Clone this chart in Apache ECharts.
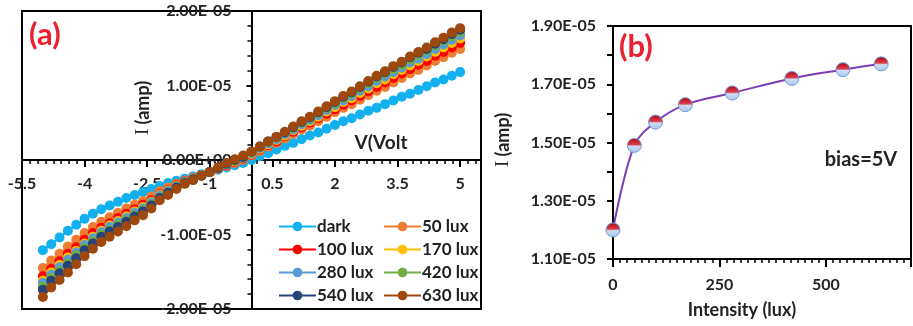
<!DOCTYPE html>
<html><head><meta charset="utf-8">
<script src="https://cdn.jsdelivr.net/npm/echarts@6/dist/echarts.min.js"></script>
<style>html,body{margin:0;padding:0;background:#fff}#c{width:913px;height:326px}</style>
</head><body><div id="c"></div>
<script>
// ---- Data (currents in units of 1E-05 A) ----
const volts = [-5,-4.8,-4.6,-4.4,-4.2,-4,-3.8,-3.6,-3.4,-3.2,-3,-2.8,-2.6,-2.4,-2.2,-2,-1.8,-1.6,-1.4,-1.2,-1,-0.8,-0.6,-0.4,-0.2,0,0.2,0.4,0.6,0.8,1,1.2,1.4,1.6,1.8,2,2.2,2.4,2.6,2.8,3,3.2,3.4,3.6,3.8,4,4.2,4.4,4.6,4.8,5];
const dark = [-1.21,-1.13,-1.04,-0.95,-0.87,-0.79,-0.72,-0.66,-0.61,-0.56,-0.51,-0.47,-0.43,-0.39,-0.35,-0.31,-0.28,-0.25,-0.22,-0.19,-0.16,-0.13,-0.10,-0.07,-0.04,0.00,0.05,0.09,0.14,0.19,0.23,0.28,0.33,0.37,0.42,0.47,0.52,0.56,0.61,0.66,0.70,0.75,0.80,0.85,0.89,0.94,0.99,1.04,1.08,1.13,1.18];
const lux50 = [-1.45,-1.35,-1.26,-1.16,-1.07,-0.98,-0.90,-0.83,-0.77,-0.71,-0.65,-0.60,-0.55,-0.49,-0.42,-0.37,-0.32,-0.28,-0.24,-0.20,-0.16,-0.12,-0.08,-0.04,0.00,0.06,0.12,0.18,0.23,0.29,0.35,0.41,0.46,0.52,0.58,0.64,0.70,0.75,0.81,0.87,0.93,0.98,1.04,1.10,1.16,1.21,1.27,1.33,1.38,1.44,1.49];
const lux100 = [-1.56,-1.46,-1.36,-1.26,-1.17,-1.07,-0.98,-0.91,-0.85,-0.78,-0.72,-0.66,-0.60,-0.54,-0.46,-0.40,-0.34,-0.29,-0.25,-0.20,-0.16,-0.11,-0.07,-0.03,0.02,0.07,0.14,0.20,0.25,0.32,0.38,0.44,0.50,0.56,0.62,0.68,0.74,0.80,0.86,0.92,0.98,1.04,1.10,1.16,1.22,1.28,1.33,1.40,1.45,1.51,1.57];
const lux170 = [-1.62,-1.51,-1.41,-1.31,-1.22,-1.12,-1.03,-0.95,-0.88,-0.82,-0.76,-0.69,-0.63,-0.56,-0.47,-0.41,-0.35,-0.30,-0.25,-0.20,-0.16,-0.11,-0.06,-0.02,0.03,0.08,0.15,0.21,0.27,0.33,0.40,0.46,0.52,0.58,0.65,0.71,0.78,0.83,0.90,0.96,1.03,1.08,1.15,1.21,1.27,1.33,1.39,1.45,1.51,1.57,1.63];
const lux280 = [-1.65,-1.54,-1.44,-1.34,-1.24,-1.14,-1.05,-0.97,-0.90,-0.84,-0.78,-0.71,-0.65,-0.57,-0.48,-0.42,-0.36,-0.30,-0.26,-0.20,-0.16,-0.11,-0.06,-0.01,0.03,0.09,0.16,0.22,0.28,0.35,0.41,0.48,0.54,0.60,0.67,0.74,0.80,0.86,0.93,0.99,1.06,1.12,1.18,1.24,1.31,1.36,1.42,1.49,1.55,1.61,1.67];
const lux420 = [-1.70,-1.58,-1.49,-1.39,-1.28,-1.18,-1.09,-1.00,-0.94,-0.87,-0.81,-0.74,-0.67,-0.59,-0.50,-0.44,-0.37,-0.31,-0.26,-0.21,-0.16,-0.11,-0.05,-0.01,0.04,0.10,0.17,0.24,0.30,0.37,0.43,0.50,0.56,0.63,0.70,0.76,0.83,0.89,0.96,1.03,1.10,1.16,1.22,1.28,1.35,1.41,1.47,1.54,1.60,1.66,1.72];
const lux540 = [-1.74,-1.62,-1.52,-1.42,-1.32,-1.21,-1.12,-1.03,-0.96,-0.90,-0.83,-0.76,-0.69,-0.61,-0.51,-0.44,-0.37,-0.31,-0.26,-0.21,-0.16,-0.11,-0.05,0.00,0.04,0.11,0.18,0.25,0.31,0.37,0.44,0.51,0.57,0.64,0.71,0.78,0.85,0.91,0.98,1.05,1.12,1.18,1.25,1.31,1.38,1.44,1.49,1.56,1.62,1.69,1.75];
const lux630 = [-1.84,-1.71,-1.61,-1.51,-1.40,-1.29,-1.19,-1.10,-1.03,-0.96,-0.89,-0.81,-0.74,-0.65,-0.54,-0.47,-0.39,-0.32,-0.27,-0.21,-0.16,-0.10,-0.04,0.01,0.06,0.11,0.18,0.25,0.31,0.38,0.45,0.52,0.58,0.65,0.72,0.79,0.86,0.92,0.99,1.06,1.13,1.19,1.26,1.32,1.39,1.45,1.51,1.58,1.64,1.71,1.77];
const seriesNames = ['dark','50 lux','100 lux','170 lux','280 lux','420 lux','540 lux','630 lux'];
const intensity = [0,50,100,170,280,420,540,630];
const currentAt5V = [1.20,1.49,1.57,1.63,1.67,1.72,1.75,1.77];

// ---- Styles ----
const colors = ['#12b0ee','#ed7d31','#ff0000','#ffc000','#5b9bd5','#70ad47','#264478','#9e480e'];
const curves = [dark,lux50,lux100,lux170,lux280,lux420,lux540,lux630];
const FONT = 'Lato';
const TXT = '#222';
const fmtA = v => v === 0 ? '0.00E+00' : v.toFixed(2) + 'E-05';
const fmtB = v => v.toFixed(2) + 'E-05';

const chart = echarts.init(document.getElementById('c'), null, {renderer:'canvas'});

const ivSeries = curves.map((arr, i) => ({
  name: seriesNames[i], type: 'line', xAxisIndex: 0, yAxisIndex: 0,
  data: volts.map((v, k) => [v, arr[k]]),
  symbol: 'circle', symbolSize: 10, showSymbol: true,
  lineStyle: {width: 2, color: colors[i]},
  itemStyle: {color: colors[i]},
  animation: false, z: 3
}));

const labelStyle = {fontFamily: FONT, fontWeight: 'bold', fontSize: 16, color: TXT};
// grid (a): left 22, top 11, 459 x 298 -> zero of x at 251.5, zero of y at 160
const GA = {left: 22, top: 11, width: 459, height: 298};

const option = {
  animation: false,
  textStyle: {fontFamily: FONT},
  grid: [
    Object.assign({show: true, borderColor: '#000', borderWidth: 2, containLabel: false, outerBoundsMode: 'none'}, GA),
    {left: 613, top: 26, width: 298, height: 233, show: true, borderColor: '#000', borderWidth: 2, containLabel: false, outerBoundsMode: 'none'}
  ],
  xAxis: [
    {type: 'value', gridIndex: 0, min: -5.5, max: 5.5, interval: 1.5, position: 'bottom', offset: -149,
     axisLine: {onZero: false, lineStyle: {color: '#000', width: 2}},
     axisTick: {show: true, inside: false, length: 7, lineStyle: {color: '#000', width: 2}},
     minorTick: {show: true, splitNumber: 8, length: 4, lineStyle: {color: '#000', width: 1.5}},
     axisLabel: Object.assign({margin: 16, showMaxLabel: false, formatter: v => String(v)}, labelStyle),
     splitLine: {show: false}},
    {type: 'value', gridIndex: 1, min: 0, max: 700, interval: 250,
     axisLine: {onZero: false, lineStyle: {color: '#000', width: 2}},
     axisTick: {show: true, inside: false, length: 8, lineStyle: {color: '#000', width: 2}},
     minorTick: {show: true, splitNumber: 15, length: 4, lineStyle: {color: '#000', width: 1.5}},
     axisLabel: Object.assign({margin: 18, showMaxLabel: false}, labelStyle),
     splitLine: {show: false}}
  ],
  yAxis: [
    {type: 'value', gridIndex: 0, min: -2, max: 2, interval: 1, position: 'left', offset: -229.5,
     axisLine: {onZero: false, lineStyle: {color: '#000', width: 2}},
     axisTick: {show: true, inside: false, length: 5, lineStyle: {color: '#000', width: 2}},
     minorTick: {show: true, splitNumber: 5, length: 4, lineStyle: {color: '#000', width: 1.5}},
     axisLabel: Object.assign({margin: 20, formatter: fmtA}, labelStyle),
     splitLine: {show: false}},
    {type: 'value', gridIndex: 1, min: 1.1, max: 1.9, interval: 0.2,
     axisLine: {onZero: false, lineStyle: {color: '#000', width: 2}},
     axisTick: {show: true, inside: false, length: 6, lineStyle: {color: '#000', width: 2}},
     minorTick: {show: true, splitNumber: 2, length: 6, lineStyle: {color: '#000', width: 2}},
     axisLabel: Object.assign({margin: 17, formatter: fmtB}, labelStyle),
     splitLine: {show: false}}
  ],
  legend: [
    {data: ['dark','100 lux','280 lux','540 lux'], orient: 'vertical', left: 273, top: 213,
     itemWidth: 37, itemHeight: 12, itemGap: 6,
     textStyle: {fontFamily: FONT, fontWeight: 'bold', fontSize: 17, color: TXT, padding: [0,0,0,-4]}},
    {data: ['50 lux','170 lux','420 lux','630 lux'], orient: 'vertical', left: 378, top: 213,
     itemWidth: 37, itemHeight: 12, itemGap: 6,
     textStyle: {fontFamily: FONT, fontWeight: 'bold', fontSize: 17, color: TXT, padding: [0,0,0,-4]}}
  ],
  graphic: [
    {type: 'text', left: 29, top: 19, style: {text: '(a)', font: 'bold 31px ' + FONT, fill: '#ec2030'}},
    {type: 'text', left: 619, top: 31, style: {text: '(b)', font: 'bold 31px ' + FONT, fill: '#ec2030'}},
    {type: 'text', x: 143, y: 108, rotation: Math.PI / 2, style: {
      text: '{s|I} (amp)', font: 'bold 18px ' + FONT, fill: TXT, align: 'center', verticalAlign: 'middle',
      rich: {s: {fontFamily: 'Liberation Serif', fontSize: 19, fontWeight: 'normal', fill: TXT}}}},
    {type: 'text', x: 503, y: 140, rotation: Math.PI / 2, style: {
      text: '{s|I} (amp)', font: 'bold 18px ' + FONT, fill: TXT, align: 'center', verticalAlign: 'middle',
      rich: {s: {fontFamily: 'Liberation Serif', fontSize: 19, fontWeight: 'normal', fill: TXT}}}},
    {type: 'text', x: 381, y: 143, style: {text: 'V(Volt', font: 'bold 19px ' + FONT, fill: TXT, align: 'center', verticalAlign: 'middle'}},
    {type: 'text', x: 861, y: 160, style: {text: 'bias=5V', font: 'bold 20px ' + FONT, fill: TXT, align: 'center', verticalAlign: 'middle'}},
    {type: 'text', x: 742, y: 310, style: {text: 'Intensity (lux)', font: 'bold 18px ' + FONT, fill: TXT, align: 'center', verticalAlign: 'middle'}}
  ],
  series: ivSeries.concat([{
    name: 'bias5V', type: 'line', xAxisIndex: 1, yAxisIndex: 1,
    data: intensity.map((x, k) => [x, currentAt5V[k]]),
    smooth: 0.35, symbol: 'circle', symbolSize: 14,
    lineStyle: {width: 2, color: '#7d3cb5'},
    itemStyle: {
      color: {type: 'linear', x: 0, y: 0, x2: 0, y2: 1, colorStops: [
        {offset: 0, color: '#b5000f'}, {offset: 0.45, color: '#d8404c'},
        {offset: 0.55, color: '#cfdcf2'}, {offset: 1, color: '#a8c4ea'}]},
      borderColor: '#6c9bd8', borderWidth: 1
    },
    z: 3
  }])
};
chart.setOption(option);
</script>
</body></html>
